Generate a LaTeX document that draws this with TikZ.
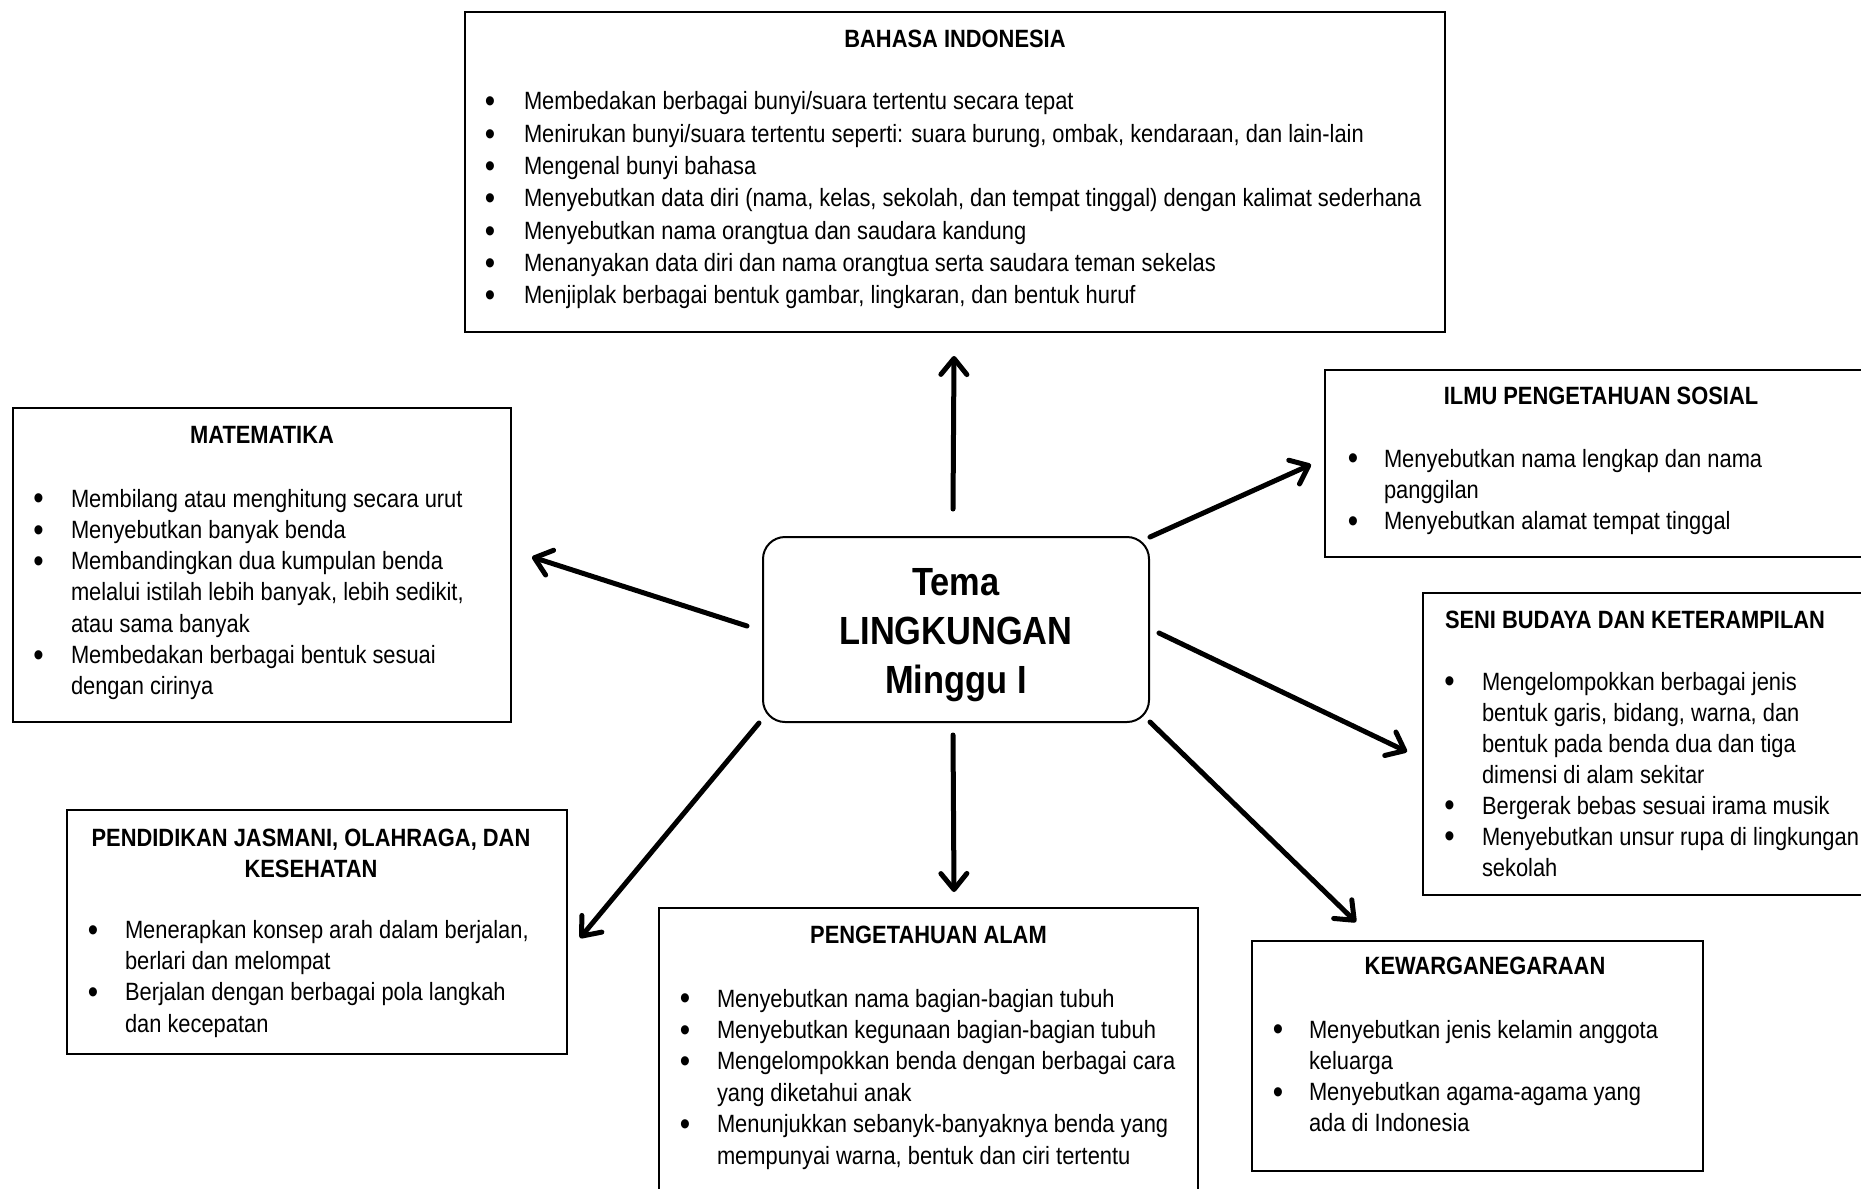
\documentclass[tikz,border=0pt]{standalone}
\usepackage{fontspec}
\usepackage{graphicx}
\setmainfont{Liberation Sans}[FakeStretch=0.875]
\usetikzlibrary{arrows.meta,calc}

% one drawing unit
\newdimen\pxu \pxu=0.5pt

% bullet item: #1 bullet offset, #2 text offset, #3 text (lines split by \\)
\newcommand\bul[3]{\par\noindent\hangindent=#2\pxu\hangafter=1
  \makebox[#2\pxu][l]{\hspace*{\dimexpr#1\pxu-5.2\pxu\relax}%
    \raisebox{-1.4pt}{\scalebox{1.35}{\textbullet}}}#3}
% centred heading over a given width
\newcommand\ttl[2]{\makebox[#1\pxu][c]{\bfseries #2}}
% distance from the previous baseline to the next one
\newcommand\gap[1]{\par\vspace{\dimexpr#1\pxu-\baselineskip\relax}}
% panel body: #1 width, #2 height, #3 first baseline, #4 line spacing, #5 content
\newcommand\panelbody[5]{\parbox[t][#2\pxu][t]{#1\pxu}{%
  \fontsize{12.5pt}{#4}\selectfont\rightskip=-300\pxu plus 1fil\relax
  \parfillskip=0pt plus 1fil\relax
  \noindent\rule{0pt}{#3\pxu}#5\par}}

\tikzset{
  panel/.style={draw=black, line width=1pt, inner sep=0pt, anchor=north west},
  theme/.style={draw=black, line width=1pt, rounded corners=11pt,
    minimum width=193pt, minimum height=92.5pt, align=center, inner sep=0pt,
    font=\fontsize{19.65pt}{24.5pt}\selectfont\bfseries},
  link/.style={line width=2.5pt, line cap=round,
    -{Straight Barb[length=8pt,width=13pt,round]}}
}

\begin{document}
\begin{tikzpicture}[x=0.5pt,y=-0.5pt]
\useasboundingbox (0,0) rectangle (1861,1188);

% central theme
\node[theme] (tema) at (956,629.5) {\rule{0pt}{19.1pt}Tema\\LINGKUNGAN\\Minggu I};

% subject panels
\node[panel] (bahasa) at (464,11) {\panelbody{980}{320}{36}{16.15pt}{%
  \ttl{980}{BAHASA INDONESIA}\gap{62}%
  \bul{25}{59}{Membedakan berbagai bunyi/suara tertentu secara tepat}%
  \bul{25}{59}{Menirukan bunyi/suara tertentu seperti: suara burung, ombak, kendaraan, dan lain-lain}%
  \bul{25}{59}{Mengenal bunyi bahasa}%
  \bul{25}{59}{Menyebutkan data diri (nama, kelas, sekolah, dan tempat tinggal) dengan kalimat sederhana}%
  \bul{25}{59}{Menyebutkan nama orangtua dan saudara kandung}%
  \bul{25}{59}{Menanyakan data diri dan nama orangtua serta saudara teman sekelas}%
  \bul{25}{59}{Menjiplak berbagai bentuk gambar, lingkaran, dan bentuk huruf}}};

\node[panel] (mat) at (12,407) {\panelbody{498}{314}{35}{15.65pt}{%
  \ttl{498}{MATEMATIKA}\gap{64}%
  \bul{25.5}{58}{Membilang atau menghitung secara urut}%
  \bul{25.5}{58}{Menyebutkan banyak benda}%
  \bul{25.5}{58}{Membandingkan dua kumpulan benda\\melalui istilah lebih banyak, lebih sedikit,\\atau sama banyak}%
  \bul{25.5}{58}{Membedakan berbagai bentuk sesuai\\dengan cirinya}}};

\node[panel] (ilmu) at (1324,369) {\panelbody{600}{187}{34}{15.7pt}{%
  \ttl{552}{ILMU PENGETAHUAN SOSIAL}\gap{63}%
  \bul{28}{59}{Menyebutkan nama lengkap dan nama\\panggilan}%
  \bul{28}{59}{Menyebutkan alamat tempat tinggal}}};

\node[panel] (seni) at (1422,591.5) {\panelbody{500}{302.5}{35.5}{15.5pt}{%
  \ttl{424}{SENI BUDAYA DAN KETERAMPILAN}\gap{62}%
  \bul{26.5}{59}{Mengelompokkan berbagai jenis\\bentuk garis, bidang, warna, dan\\bentuk pada benda dua dan tiga\\dimensi di alam sekitar}%
  \bul{26.5}{59}{Bergerak bebas sesuai irama musik}%
  \bul{26.5}{59}{Menyebutkan unsur rupa di lingkungan\\sekolah}}};

\node[panel] (pend) at (65.5,809) {\panelbody{500}{244}{36}{15.65pt}{%
  \ttl{489}{PENDIDIKAN JASMANI, OLAHRAGA, DAN}\par\noindent
  \ttl{489}{KESEHATAN}\gap{61}%
  \bul{26.5}{58.5}{Menerapkan konsep arah dalam berjalan,\\berlari dan melompat}%
  \bul{26.5}{58.5}{Berjalan dengan berbagai pola langkah\\dan kecepatan}}};

\node[panel] (alam) at (658,907) {\panelbody{539}{300}{35}{15.7pt}{%
  \ttl{539}{PENGETAHUAN ALAM}\gap{64}%
  \bul{26}{58}{Menyebutkan nama bagian-bagian tubuh}%
  \bul{26}{58}{Menyebutkan kegunaan bagian-bagian tubuh}%
  \bul{26}{58}{Mengelompokkan benda dengan berbagai cara\\yang diketahui anak}%
  \bul{26}{58}{Menunjukkan sebanyk-banyaknya benda yang\\mempunyai warna, bentuk dan ciri tertentu}}};

\node[panel] (kew) at (1251,940) {\panelbody{451}{230}{33}{15.6pt}{%
  \ttl{466}{KEWARGANEGARAAN}\gap{64}%
  \bul{26}{57}{Menyebutkan jenis kelamin anggota\\keluarga}%
  \bul{26}{57}{Menyebutkan agama-agama yang\\ada di Indonesia}}};

% arrows from the theme to each subject
\draw[link] ($(tema.north)+(-3,-27)$) -- ($(bahasa.south)+(-1,23)$);
\draw[link] ($(tema.west)+(-15,-3.5)$) -- ($(mat.east)+(20,-8)$);
\draw[link] ($(tema.north east)+(0,1)$) -- ($(ilmu.west)+(-13,1)$);
\draw[link] ($(tema.east)+(9,3.5)$) -- ($(seni.west)+(-15,8)$);
\draw[link] ($(tema.south west)+(-3,0)$) -- ($(pend.east)+(12.5,6)$);
\draw[link] ($(tema.south)+(-3,12)$) -- ($(alam.north)+(25.5,-15)$);
\draw[link] ($(tema.south east)+(0,-1)$) -- ($(kew.north west)+(105,-18)$);
\end{tikzpicture}
\end{document}
